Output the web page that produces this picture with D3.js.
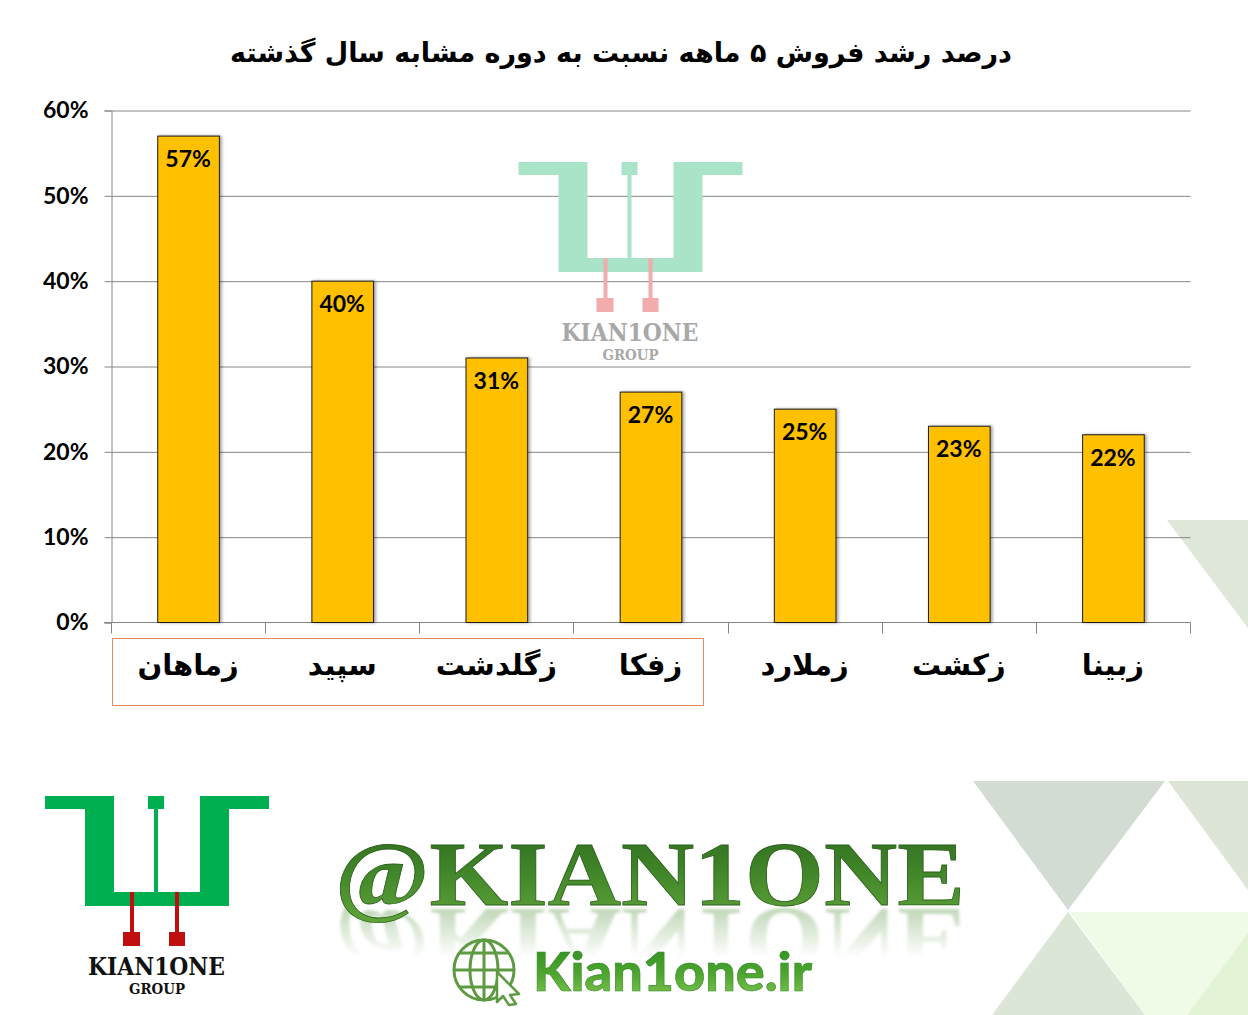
<!DOCTYPE html>
<html lang="fa"><head><meta charset="utf-8">
<script src="https://cdn.jsdelivr.net/npm/d3@7/dist/d3.min.js"></script>
<style>html,body{margin:0;padding:0;background:#fff;overflow:hidden}svg{display:block}</style>
</head><body><svg id="c" width="1248" height="1015" xmlns="http://www.w3.org/2000/svg"></svg>
<script>
const categories=["زماهان","سپید","زگلدشت","زفکا","زملارد","زکشت","زبینا"];
const growthValues=[57,40,31,27,25,23,22];
const yTickValues=[0,10,20,30,40,50,60];
const chartTitle="درصد رشد فروش ۵ ماهه نسبت به دوره مشابه سال گذشته";

const svg=d3.select("#c");
const AR="'DejaVu Sans',sans-serif", LAT="Lato,'Open Sans',sans-serif", SER="'DejaVu Serif',serif";
const defs=svg.append("defs");
const grad=(id,stops)=>{const g=defs.append("linearGradient").attr("id",id).attr("x1",0).attr("y1",0).attr("x2",0).attr("y2",1);
  stops.forEach(([o,c,a])=>g.append("stop").attr("offset",o).attr("stop-color",c).attr("stop-opacity",a==null?1:a));};
grad("bigG",[[0,"#2f6a1f"],[.45,"#3f8428"],[1,"#62a53c"]]);
grad("siteG",[[0,"#2f8a22"],[.55,"#4ca52e"],[1,"#8cc95a"]]);
grad("fadeG",[[0,"#fff",0.38],[.75,"#fff",0]]);
defs.append("mask").attr("id","fade").attr("maskUnits","userSpaceOnUse").attr("x",300).attr("y",900).attr("width",700).attr("height",90)
  .append("rect").attr("x",300).attr("y",905).attr("width",700).attr("height",70).attr("fill","url(#fadeG)");
const fs=defs.append("filter").attr("id","barShadow").attr("x","-20%").attr("y","-5%").attr("width","140%").attr("height","110%");
fs.append("feDropShadow").attr("dx",2).attr("dy",0).attr("stdDeviation",1.5).attr("flood-color","#000").attr("flood-opacity",.35);
defs.append("filter").attr("id","soft").append("feGaussianBlur").attr("stdDeviation",1.6);

// background triangles
const tris=[
 ["#dfe8d8","1167,520 1248,520 1248,628"],
 ["#d3dcd2","973,781 1165,781 1068,910"],
 ["#dde6d6","1168,781 1248,781 1248,890"],
 ["#dce6d6","1068,912 992,1015 1145,1015"],
 ["#effbe6","1070,912 1248,912 1248,933 1187,1015 1145,1015"],
 ["#e3f4d6","1187,1015 1248,933 1248,1015"]];
svg.append("g").selectAll("polygon").data(tris).join("polygon").attr("fill",d=>d[0]).attr("points",d=>d[1]);

// chart
const x=d3.scaleBand().domain(categories).range([111,1190]).paddingInner(.6).paddingOuter(.3);
const y=d3.scaleLinear().domain([0,60]).range([622.5,110.5]);
const AXC="#868686";

const gy=svg.append("g").attr("transform","translate(111.5,0)")
  .call(d3.axisLeft(y).tickValues(yTickValues).tickFormat(d=>d+"%").tickSize(7).tickPadding(16));
gy.select(".domain").attr("stroke",AXC).attr("stroke-width",1);
gy.selectAll(".tick line").attr("stroke",AXC);
gy.selectAll(".tick").filter(d=>d>0).append("line").attr("x1",0).attr("x2",1079).attr("stroke",AXC).attr("stroke-width",1);
gy.selectAll("text").attr("font-family",LAT).attr("font-weight",700).attr("font-size",23).attr("fill","#000");

// watermark logo sits over the gridlines
function logo(g,green,red,ink){
  g.append("path").attr("fill",green).attr("d","M45 796H114V892H200V796H269V809H229V906H85V809H45Z");
  g.append("path").attr("fill",green).attr("d","M148 796H164V809H158V892H154V809H148Z");
  g.append("path").attr("fill",red).attr("d","M130 892H134V932H140V946H123V932H130ZM175 892H179V932H185V946H169V932H175Z");
  g.append("text").attr("x",88).attr("y",975).attr("textLength",137).attr("lengthAdjust","spacingAndGlyphs")
    .attr("font-family",SER).attr("font-weight",700).attr("font-size",24).attr("fill",ink).text("KIAN1ONE");
  g.append("text").attr("x",129).attr("y",994).attr("textLength",56).attr("lengthAdjust","spacingAndGlyphs")
    .attr("font-family",SER).attr("font-weight",700).attr("font-size",14).attr("fill",ink).text("GROUP");
}
logo(svg.append("g").attr("transform","translate(473.5,-634)"),"#a9e3c8","#f2acac","#a8a8a8");

const gx=svg.append("g").attr("transform","translate(0,622.5)");
const step=x.step();
gx.append("path").attr("d",d3.line()([[104,0],[1190.5,0]])).attr("stroke",AXC).attr("fill","none");
gx.selectAll("line.sep").data(d3.range(categories.length+1)).join("line").attr("class","sep")
  .attr("x1",i=>Math.round(111+i*(1079/categories.length))+.5).attr("x2",i=>Math.round(111+i*(1079/categories.length))+.5)
  .attr("y1",0).attr("y2",11).attr("stroke",AXC);
gx.call(d3.axisBottom(x).tickSize(0).tickPadding(32)).select(".domain").remove();
gx.selectAll(".tick text").attr("font-family",AR).attr("font-weight",700).attr("font-size",29).attr("fill","#000").attr("direction","rtl");

svg.append("g").selectAll("rect").data(categories).join("rect")
  .attr("x",d=>x(d)+.5).attr("width",x.bandwidth())
  .attr("y",(d,i)=>y(growthValues[i])).attr("height",(d,i)=>y(0)-y(growthValues[i]))
  .attr("fill","#FFC000").attr("stroke","#1c1c1c").attr("stroke-width",1).attr("filter","url(#barShadow)");
svg.append("g").selectAll("text").data(categories).join("text")
  .attr("x",d=>x(d)+x.bandwidth()/2).attr("y",(d,i)=>y(growthValues[i])+31)
  .attr("text-anchor","middle").attr("font-family",LAT).attr("font-weight",700).attr("font-size",23).attr("fill","#000")
  .text((d,i)=>growthValues[i]+"%");

svg.append("rect").attr("x",112.5).attr("y",638.5).attr("width",591).attr("height",67).attr("fill","none").attr("stroke","#dd8f5f").attr("stroke-width",1);

svg.append("text").attr("x",621).attr("y",62).attr("text-anchor","middle").attr("direction","rtl")
  .attr("font-family",AR).attr("font-weight",700).attr("font-size",27).attr("fill","#000").text(chartTitle);

// footer
logo(svg.append("g"),"#00b050","#c00f0f","#111");

const bigAttrs=s=>s.attr("x",335).attr("y",905).attr("textLength",630).attr("lengthAdjust","spacingAndGlyphs")
  .attr("font-family","'Liberation Serif',serif").attr("font-weight",700).attr("font-size",92).text("@KIAN1ONE");
svg.append("g").attr("mask","url(#fade)").append("text").call(bigAttrs).attr("fill","#4d8f35").attr("filter","url(#soft)")
  .attr("transform","translate(0,1814) scale(1,-1)");
svg.append("text").call(bigAttrs).attr("fill","url(#bigG)").attr("stroke","#2c611c").attr("stroke-width",.8);

const site=svg.append("text").attr("x",533).attr("y",991).attr("textLength",279).attr("lengthAdjust","spacingAndGlyphs")
  .attr("font-family",LAT).attr("font-weight",900).attr("font-size",54).attr("fill","url(#siteG)").attr("stroke","#2f8a22").attr("stroke-width",.6).text("Kian1one.ir");

const globe=svg.append("g").attr("fill","none").attr("stroke","#5d9a42").attr("stroke-width",3);
globe.append("circle").attr("cx",484).attr("cy",970).attr("r",30);
globe.append("ellipse").attr("cx",484).attr("cy",970).attr("rx",14).attr("ry",30);
globe.append("path").attr("d","M484 940V1000M454 970H514M459 953H509M459 987H509");
svg.append("path").attr("d","M497 972L519 994L510 995L516 1004L509 1005L503 996L497 1002Z").attr("fill","#fff").attr("stroke","#5d9a42").attr("stroke-width",2.5).attr("stroke-linejoin","round");
</script></body></html>
